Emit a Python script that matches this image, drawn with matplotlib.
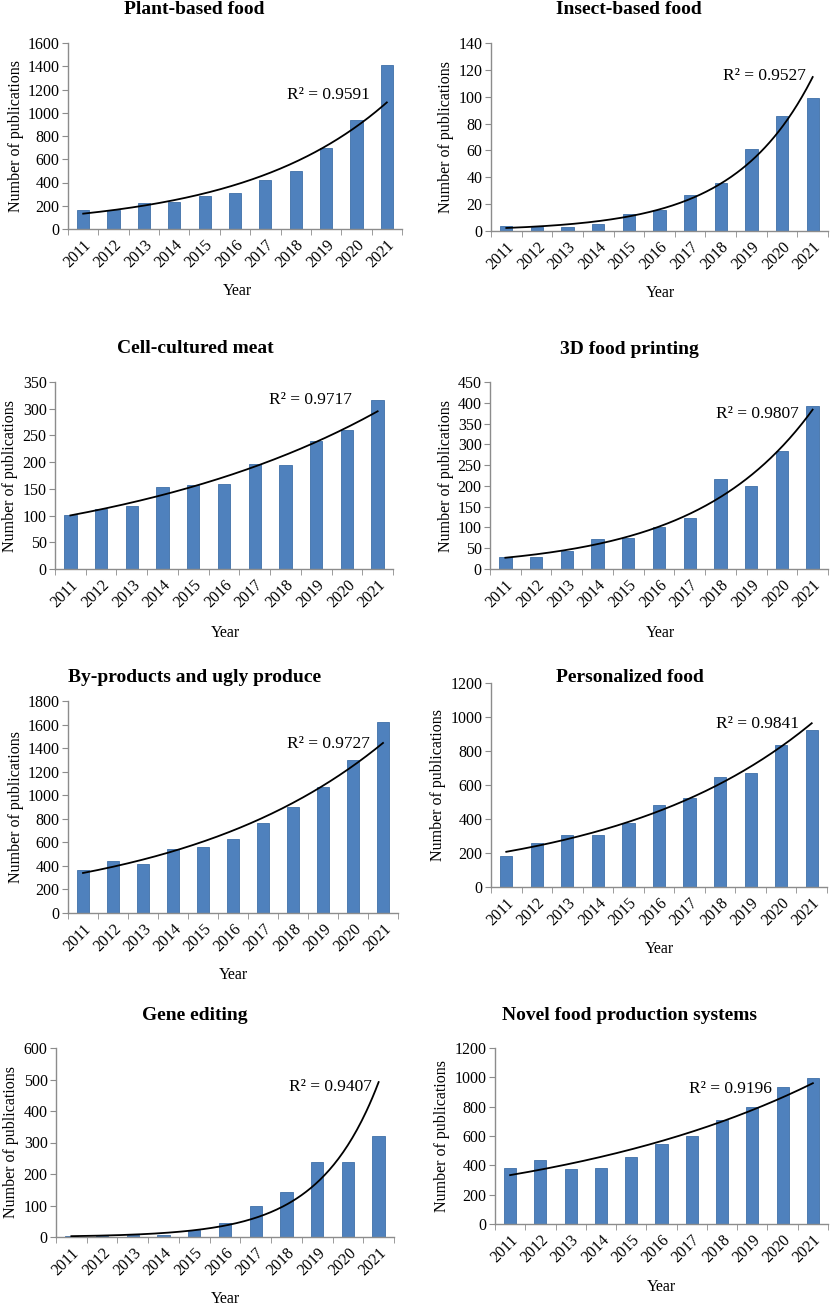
import numpy as np
import matplotlib

matplotlib.use("Agg")
import matplotlib.pyplot as plt
from matplotlib.ticker import MultipleLocator, FixedLocator, NullFormatter

plt.rcParams["font.family"] = ["Liberation Serif", "DejaVu Serif"]

YEARS = ["2011", "2012", "2013", "2014", "2015", "2016",
         "2017", "2018", "2019", "2020", "2021"]

plant_based = [160, 165, 225, 230, 280, 310, 425, 495, 700, 940, 1415]
insect_based = [4, 3, 3, 5, 13, 16, 27, 36, 61, 86, 99]
cell_cultured = [102, 112, 117, 154, 158, 159, 197, 194, 240, 260, 317]
food_printing = [30, 30, 43, 73, 74, 100, 122, 216, 200, 285, 393]
by_products = [365, 440, 420, 545, 560, 625, 760, 900, 1070, 1300, 1625]
personalized = [185, 260, 305, 305, 375, 480, 525, 645, 670, 835, 925]
gene_editing = [4, 4, 5, 7, 22, 45, 100, 143, 237, 237, 320]
novel_systems = [380, 435, 375, 385, 460, 545, 600, 710, 800, 935, 995]

TITLES = ["Plant-based food", "Insect-based food", "Cell-cultured meat",
          "3D food printing", "By-products and ugly produce",
          "Personalized food", "Gene editing", "Novel food production systems"]
SERIES = [plant_based, insect_based, cell_cultured, food_printing,
          by_products, personalized, gene_editing, novel_systems]
R2_TEXT = ["0.9591", "0.9527", "0.9717", "0.9807",
           "0.9727", "0.9841", "0.9407", "0.9196"]
Y_MAX = [1600, 140, 350, 450, 1800, 1200, 600, 1200]
Y_STEP = [200, 20, 50, 50, 200, 200, 100, 200]

W, H = 831, 1306
# axes boxes in pixels: left, right, top, bottom
AX_BOX = [(68, 402, 43, 229), (491, 828, 43, 231),
          (55, 393, 382, 569), (490, 828, 382, 569),
          (68, 398, 701, 913), (491, 827, 683, 887),
          (56, 394, 1048, 1237), (495, 828, 1048, 1224)]
TITLE_POS = [(194, 10), (629, 10), (195, 349), (629, 350),
             (195, 677), (630, 677), (195, 1016), (630, 1016)]
YEAR_POS = [(237, 291), (660, 293), (225, 633), (660, 633),
            (233, 975), (659, 949), (225, 1299), (661, 1287)]
R2_POS = [(0.657, 0.721), (0.689, 0.822), (0.633, 0.902), (0.668, 0.828),
          (0.664, 0.795), (0.669, 0.800), (0.689, 0.796), (0.582, 0.769)]

BAR_COLOR = "#4F81BD"
EDGE_COLOR = "#3F6FA8"
AXIS_COLOR = "#8C8C8C"

fig = plt.figure(figsize=(W / 100, H / 100), dpi=100)

x = np.arange(len(YEARS))
for i, vals in enumerate(SERIES):
    l, r, t, b = AX_BOX[i]
    ax = fig.add_axes([l / W, 1 - b / H, (r - l) / W, (b - t) / H])
    ax.bar(x, vals, width=0.4, color=BAR_COLOR, edgecolor=EDGE_COLOR,
           linewidth=0.6, zorder=2)

    # exponential trendline (least squares on log values, like Excel)
    k, c = np.polyfit(x, np.log(vals), 1)
    xs = np.linspace(0, len(YEARS) - 1, 200)
    ax.plot(xs, np.exp(c + k * xs), color="black", lw=1.3, zorder=3)

    ax.set_xlim(-0.5, len(YEARS) - 0.5)
    ax.set_ylim(0, Y_MAX[i])
    ax.yaxis.set_major_locator(MultipleLocator(Y_STEP[i]))
    ax.set_xticks(x)
    ax.set_xticklabels(YEARS, rotation=45, ha="right", rotation_mode="anchor")
    ax.xaxis.set_minor_locator(FixedLocator(np.arange(-0.5, len(YEARS), 1)))
    ax.xaxis.set_minor_formatter(NullFormatter())
    ax.tick_params(axis="x", which="major", length=0, pad=6, labelsize=11.5)
    ax.tick_params(axis="x", which="minor", length=4, color=AXIS_COLOR)
    ax.tick_params(axis="y", length=4, color=AXIS_COLOR, labelsize=11.5, pad=2)
    for side in ("top", "right"):
        ax.spines[side].set_visible(False)
    for side in ("left", "bottom"):
        ax.spines[side].set_color(AXIS_COLOR)
        ax.spines[side].set_linewidth(1.0)
    ax.set_ylabel("Number of publications", fontsize=11.5, labelpad=3)

    ax.text(R2_POS[i][0], R2_POS[i][1], "R² = " + R2_TEXT[i],
            transform=ax.transAxes, ha="left", va="center", fontsize=12.5)

    tx, ty = TITLE_POS[i]
    fig.text(tx / W, 1 - ty / H, TITLES[i], ha="center", va="center",
             fontsize=14, fontweight="bold")
    yx, yy = YEAR_POS[i]
    fig.text(yx / W, 1 - yy / H, "Year", ha="center", va="center",
             fontsize=11.5)

fig.savefig("out.png", dpi=100)
plt.close(fig)
